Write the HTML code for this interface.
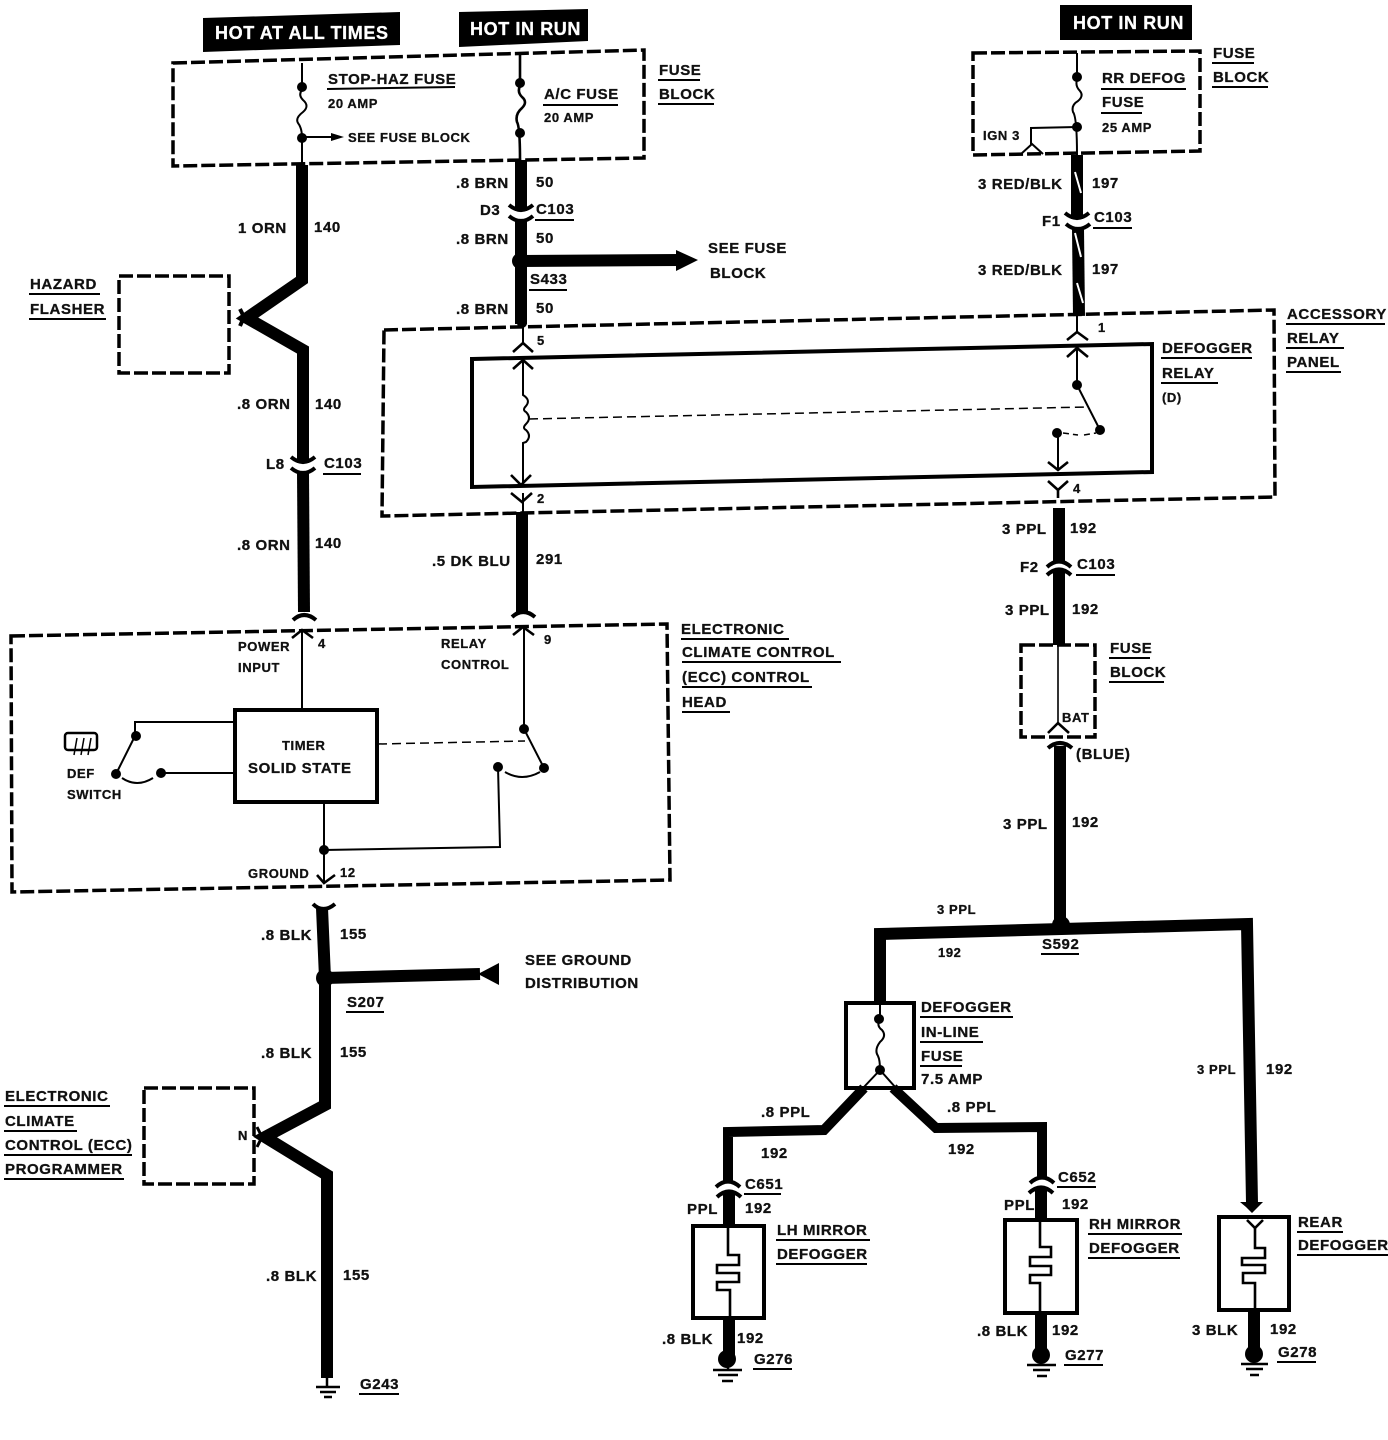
<!DOCTYPE html>
<html><head><meta charset="utf-8"><style>
html,body{margin:0;padding:0;background:#fff}
svg{display:block}
text{font-family:"Liberation Sans",sans-serif;font-weight:bold;font-size:15px;fill:#111;letter-spacing:.6px;stroke:#111;stroke-width:.3px}
.s{font-size:13px}
.w{fill:#fff;stroke:#fff;font-size:18px}
.t{fill:none;stroke:#000;stroke-width:12;stroke-linejoin:miter}
.m{fill:none;stroke:#000;stroke-width:10}
.d{fill:none;stroke:#000;stroke-width:3.5;stroke-dasharray:14 4}
.b{fill:none;stroke:#000;stroke-width:4}
.u{stroke:#000;stroke-width:2;fill:none}
.th{fill:none;stroke:#000;stroke-width:2}
.c{fill:none;stroke:#000;stroke-width:4}
.y{fill:none;stroke:#000;stroke-width:2.6}
</style></head><body>
<svg width="1388" height="1440" viewBox="0 0 1388 1440" xmlns="http://www.w3.org/2000/svg">
<rect width="1388" height="1440" fill="#fff"/>
<!-- black headers -->
<polygon points="203,18 400,12 400,45 203,52" fill="#000"/>
<polygon points="459,12 588,9 588,41 459,47" fill="#000"/>
<rect x="1060" y="5" width="132" height="35" fill="#000"/>
<text class="w" x="215" y="39">HOT AT ALL TIMES</text>
<text class="w" x="470" y="35">HOT IN RUN</text>
<text class="w" x="1073" y="29">HOT IN RUN</text>
<!-- dashed boxes -->
<polygon class="d" points="173,63 644,50 644,158 173,166"/>
<polygon class="d" points="973,53 1200,51 1200,151 973,155"/>
<rect class="d" x="119" y="276" width="110" height="97"/>
<polygon class="d" points="384,330 1274,310 1275,497 382,516"/>
<polygon class="d" points="11,636 667,624 670,880 12,892"/>
<rect class="d" x="1021" y="645" width="74" height="92"/>
<rect class="d" x="144" y="1088" width="110" height="96"/>
<!-- left thick wire -->
<path class="t" d="M302,165V280L247,318L303,350V463"/>
<path class="t" d="M303,473L304,612"/>
<path class="t" d="M322,908L325,978V1105L265,1137L327,1175V1378"/>
<path class="t" d="M325,978L480,974"/><polygon points="478,974 499,963 499,985"/>
<!-- centre -->
<path class="t" d="M521,160V211"/><path class="t" d="M521,221V324"/>
<path class="t" d="M522,512V612"/>
<path d="M520,261L680,260" stroke="#000" stroke-width="12" fill="none"/><polygon points="676,250 698,260 676,271"/>
<circle cx="520" cy="261" r="8"/>
<!-- right -->
<path class="t" d="M1077,155V219"/><path class="t" d="M1078,229L1079,316"/>
<path d="M1075,172L1081,193M1075,233L1081,257M1077,283L1083,303" stroke="#fff" stroke-width="2"/>
<path class="t" d="M1059,508V562"/><path class="t" d="M1059,569V645"/>
<path class="t" d="M1060,746V925"/><circle cx="1061" cy="925" r="9"/>
<path class="t" d="M880,1002V934L1247,924L1252,1203"/>
<polygon points="1240,1202 1263,1202 1258,1207 1252,1213 1246,1207"/>
<path class="m" d="M864,1088L824,1130L728,1132V1183"/>
<path class="m" d="M893,1088L936,1128L1042,1127V1178"/>
<path class="t" d="M729,1192V1226"/><path class="t" d="M1041,1188V1220"/>
<path class="t" d="M729,1318V1355"/><path class="t" d="M1041,1313V1350"/><path class="t" d="M1254,1310V1350"/>
<circle cx="325" cy="978" r="9"/><circle cx="727" cy="1359" r="9"/><circle cx="1041" cy="1355" r="9"/><circle cx="1254" cy="1354" r="9"/>
<!-- connectors -->
<g class="c">
<path d="M291,457Q303,467 315,457M291,468Q303,478 315,468"/>
<path d="M509,205Q521,215 533,205M509,216Q521,226 533,216"/>
<path d="M1065,213Q1077,223 1089,213M1066,224Q1078,234 1090,224"/>
<path d="M1047,567Q1059,556 1071,567M1047,575Q1059,564 1071,575"/>
<path d="M716,1187Q728,1176 740,1187M717,1197Q729,1186 741,1197"/>
<path d="M1030,1183Q1042,1172 1054,1183M1029,1193Q1041,1182 1053,1193"/>
<path d="M293,620Q304,610 316,620"/>
<path d="M512,617Q523,607 535,617"/>
<path d="M1048,748Q1060,738 1072,748"/>
<path d="M313,904Q323,914 335,904"/>
</g>
<!-- fuses, thin lines -->
<g class="th">
<path d="M302,63V90Q298,95 303,100Q310,106 303,112Q295,118 298,123Q302,128 302,138V165"/>
<path d="M302,137H335"/>
<path d="M520,53V86Q517,92 522,97Q528,102 522,108Q515,114 517,122Q520,127 520,160" stroke-width="2.6"/>
<path d="M1077,53V80Q1075,86 1080,91Q1084,96 1078,101Q1071,105 1073,112Q1077,117 1077,155"/>
<path d="M1077,127L1031,128V145M1021,154L1032,144L1043,154"/>
<path d="M1077,316V333M1077,348V385L1100,430"/>
<path d="M1058,433V470"/>
<path d="M1063,433L1078,435M1084,435L1096,433" stroke-dasharray="6 4" stroke-width="1.5"/>
<path d="M523,323V343M523,360V395Q531,400 526,406Q522,410 526,412Q532,418 526,424Q522,428 526,430Q532,436 526,442L523,443V485M523,493V512"/>
<path d="M302,630V708M524,627V729L544,768"/>
<path d="M324,803V883M324,850L500,847L498,767"/>
<path d="M234,722H135V736L116,774M122,778Q137,788 153,778M161,773H234"/>
<path d="M505,772Q522,782 540,772"/>
<path d="M880,1002V1019Q876,1026 882,1030Q887,1036 880,1042Q874,1050 878,1056Q880,1060 880,1070L863,1088M880,1070L896,1088"/>
<path d="M728,1226V1255H739V1265H717V1273H739V1282H717V1290H730V1318" stroke-width="2.6"/>
<path d="M1040,1220V1247H1051V1257H1030V1266H1051V1275H1030V1283H1040V1313" stroke-width="2.6"/>
<path d="M1255,1228V1248H1265V1258H1242V1265H1265V1273H1243V1283H1255V1310" stroke-width="2.6"/>
<path d="M1058,645V723" stroke-width="1.6"/>
</g>
<g fill="none" stroke="#000" stroke-width="1.5" stroke-dasharray="9 5">
<path d="M529,419L1087,407"/><path d="M378,744L525,741"/>
</g>
<polygon points="331,133 344,137 331,141"/>
<!-- dots -->
<g>
<circle cx="302" cy="87" r="5"/><circle cx="302" cy="138" r="5"/><circle cx="520" cy="83" r="5"/><circle cx="520" cy="133" r="5"/>
<circle cx="1077" cy="77" r="5"/><circle cx="1077" cy="127" r="5"/><circle cx="1077" cy="385" r="5"/><circle cx="1100" cy="430" r="5"/><circle cx="1057" cy="433" r="5"/>
<circle cx="522" cy="323" r="5"/>
<circle cx="524" cy="729" r="5"/><circle cx="544" cy="768" r="5"/><circle cx="498" cy="767" r="5"/><circle cx="136" cy="736" r="5"/><circle cx="116" cy="774" r="5"/><circle cx="161" cy="773" r="5"/><circle cx="324" cy="850" r="5"/>
<circle cx="879" cy="1019" r="5"/><circle cx="880" cy="1070" r="5"/>
</g>
<!-- solid boxes -->
<polygon class="b" points="472,359 1152,344 1152,472 472,487"/>
<rect x="235" y="710" width="142" height="92" class="b"/>
<rect x="846" y="1003" width="68" height="85" class="b"/>
<rect x="693" y="1226" width="71" height="92" class="b"/>
<rect x="1005" y="1220" width="72" height="93" class="b"/>
<rect x="1219" y="1217" width="70" height="93" class="b"/>
<!-- chevrons -->
<g class="y">
<path d="M292,638L302,630L313,638"/>
<path d="M513,635L523,627L534,635"/>
<path d="M513,352L523,343L533,352"/>
<path d="M513,369L523,360L533,369"/>
<path d="M511,475L521,485L531,475"/>
<path d="M511,493L522,502L532,493"/>
<path d="M1067,340L1077,332L1088,340"/>
<path d="M1067,357L1077,348L1088,357"/>
<path d="M1048,462L1058,470L1068,462"/>
<path d="M1048,481L1058,490L1068,481M1058,490V498"/>
<path d="M317,875L324,883L335,875"/>
<path d="M1048,733L1058,723L1069,733"/>
<path d="M1247,1220L1255,1228L1263,1220"/>
</g>
<path d="M240,309L244,317L240,326" fill="none" stroke="#000" stroke-width="4"/>
<path d="M257,1127L262,1137L257,1147" fill="none" stroke="#000" stroke-width="3"/>
<!-- grounds -->
<g stroke="#000" stroke-width="2.5"><path d="M316,1387H340M320,1392H336M324,1397H332"/>
<path d="M713,1370H742M718,1375H738M722,1381H733"/><path d="M1027,1365H1056M1033,1370H1050M1037,1376H1047"/><path d="M1241,1364H1268M1246,1369H1263M1250,1375H1259"/><path d="M327,1378V1387M728,1360V1370M1041,1355V1365M1254,1354V1364"/></g>
<!-- labels -->
<text x="328" y="84">STOP-HAZ FUSE</text><path class="u" d="M327,89L455,87"/>
<text class="s" x="328" y="108">20 AMP</text>
<text class="s" x="348" y="142">SEE FUSE BLOCK</text>
<text x="544" y="99">A/C FUSE</text><path class="u" d="M543,105H618"/>
<text class="s" x="544" y="122">20 AMP</text>
<text x="659" y="75">FUSE</text><path class="u" d="M658,80H700"/><text x="659" y="99">BLOCK</text><path class="u" d="M658,104H714"/>
<text x="1102" y="83">RR DEFOG</text><path class="u" d="M1101,89H1186"/><text x="1102" y="107">FUSE</text><path class="u" d="M1101,113H1142"/>
<text class="s" x="1102" y="132">25 AMP</text>
<text class="s" x="983" y="140">IGN 3</text>
<text x="1213" y="58">FUSE</text><path class="u" d="M1212,63H1254"/><text x="1213" y="82">BLOCK</text><path class="u" d="M1212,87H1268"/>
<text x="238" y="233">1 ORN</text><text x="314" y="232">140</text>
<text x="30" y="289">HAZARD</text><path class="u" d="M29,294H100"/><text x="30" y="314">FLASHER</text><path class="u" d="M29,319H106"/>
<text x="237" y="409">.8 ORN</text><text x="315" y="409">140</text>
<text x="266" y="469">L8</text><text x="324" y="468">C103</text><path class="u" d="M323,474H361"/>
<text x="237" y="550">.8 ORN</text><text x="315" y="548">140</text>
<text x="456" y="188">.8 BRN</text><text x="536" y="187">50</text>
<text x="480" y="215">D3</text><text x="536" y="214">C103</text><path class="u" d="M535,220H574"/>
<text x="456" y="244">.8 BRN</text><text x="536" y="243">50</text>
<text x="530" y="284">S433</text><path class="u" d="M529,290H567"/>
<text x="708" y="253">SEE FUSE</text><text x="710" y="278">BLOCK</text>
<text x="456" y="314">.8 BRN</text><text x="536" y="313">50</text>
<text class="s" x="537" y="345">5</text>
<text class="s" x="537" y="503">2</text>
<text x="432" y="566">.5 DK BLU</text><text x="536" y="564">291</text>
<text x="978" y="189">3 RED/BLK</text><text x="1092" y="188">197</text>
<text x="1042" y="226">F1</text><text x="1094" y="222">C103</text><path class="u" d="M1093,228H1132"/>
<text x="978" y="275">3 RED/BLK</text><text x="1092" y="274">197</text>
<text class="s" x="1098" y="332">1</text>
<text x="1287" y="319">ACCESSORY</text><path class="u" d="M1286,324H1385"/><text x="1287" y="343">RELAY</text><path class="u" d="M1286,348H1344"/><text x="1287" y="367">PANEL</text><path class="u" d="M1286,372H1341"/>
<text x="1162" y="353">DEFOGGER</text><path class="u" d="M1161,358H1252"/><text x="1162" y="378">RELAY</text><path class="u" d="M1161,383H1218"/><text class="s" x="1162" y="402">(D)</text>
<text class="s" x="1073" y="493">4</text>
<text x="1002" y="534">3 PPL</text><text x="1070" y="533">192</text>
<text x="1020" y="572">F2</text><text x="1077" y="569">C103</text><path class="u" d="M1076,575H1115"/>
<text x="1005" y="615">3 PPL</text><text x="1072" y="614">192</text>
<text x="1110" y="653">FUSE</text><path class="u" d="M1109,658H1150"/><text x="1110" y="677">BLOCK</text><path class="u" d="M1109,682H1164"/>
<text class="s" x="1062" y="722">BAT</text>
<text x="1076" y="759">(BLUE)</text>
<text x="1003" y="829">3 PPL</text><text x="1072" y="827">192</text>
<text class="s" x="937" y="914">3 PPL</text>
<text class="s" x="938" y="957">192</text>
<text x="1042" y="949">S592</text><path class="u" d="M1041,954H1079"/>
<text x="681" y="634">ELECTRONIC</text><path class="u" d="M681,639H789"/>
<text x="682" y="657">CLIMATE CONTROL</text><path class="u" d="M682,662H841"/>
<text x="682" y="682">(ECC) CONTROL</text><path class="u" d="M682,687H812"/>
<text x="682" y="707">HEAD</text><path class="u" d="M682,712H730"/>
<text class="s" x="238" y="651">POWER</text><text class="s" x="238" y="672">INPUT</text>
<text class="s" x="318" y="648">4</text>
<text class="s" x="441" y="648">RELAY</text><text class="s" x="441" y="669">CONTROL</text>
<text class="s" x="544" y="644">9</text>
<text class="s" x="282" y="750">TIMER</text>
<text x="248" y="773">SOLID STATE</text>
<text class="s" x="67" y="778">DEF</text><text class="s" x="67" y="799">SWITCH</text>
<rect x="65" y="733" width="32" height="17" rx="3" fill="none" stroke="#000" stroke-width="2.5"/>
<path d="M77,738L74,755M84,738L81,755M91,738L88,755" stroke="#000" stroke-width="1.5"/>
<text class="s" x="248" y="878">GROUND</text>
<text class="s" x="340" y="877">12</text>
<text x="261" y="940">.8 BLK</text><text x="340" y="939">155</text>
<text x="525" y="965">SEE GROUND</text><text x="525" y="988">DISTRIBUTION</text>
<text x="347" y="1007">S207</text><path class="u" d="M346,1012H384"/>
<text x="261" y="1058">.8 BLK</text><text x="340" y="1057">155</text>
<text x="5" y="1101">ELECTRONIC</text><path class="u" d="M4,1106H110"/>
<text x="5" y="1126">CLIMATE</text><path class="u" d="M4,1131H77"/>
<text x="5" y="1150">CONTROL (ECC)</text><path class="u" d="M4,1155H132"/>
<text x="5" y="1174">PROGRAMMER</text><path class="u" d="M4,1179H124"/>
<text class="s" x="238" y="1140">N</text>
<text x="266" y="1281">.8 BLK</text><text x="343" y="1280">155</text>
<text x="360" y="1389">G243</text><path class="u" d="M359,1394H399"/>
<text x="921" y="1012">DEFOGGER</text><path class="u" d="M920,1017H1013"/>
<text x="921" y="1037">IN-LINE</text><path class="u" d="M920,1042H983"/>
<text x="921" y="1061">FUSE</text><path class="u" d="M920,1066H962"/>
<text x="921" y="1084">7.5 AMP</text>
<text x="761" y="1117">.8 PPL</text><text x="761" y="1158">192</text>
<text x="947" y="1112">.8 PPL</text><text x="948" y="1154">192</text>
<text x="1197" y="1074" class="s">3 PPL</text><text x="1266" y="1074">192</text>
<text x="745" y="1189">C651</text><path class="u" d="M744,1194H781"/>
<text x="1058" y="1182">C652</text><path class="u" d="M1057,1187H1096"/>
<text x="687" y="1214">PPL</text><text x="745" y="1213">192</text>
<text x="1004" y="1210">PPL</text><text x="1062" y="1209">192</text>
<text x="777" y="1235">LH MIRROR</text><path class="u" d="M776,1240H870"/><text x="777" y="1259">DEFOGGER</text><path class="u" d="M776,1264H867"/>
<text x="1089" y="1229">RH MIRROR</text><path class="u" d="M1088,1234H1182"/><text x="1089" y="1253">DEFOGGER</text><path class="u" d="M1088,1258H1180"/>
<text x="1298" y="1227">REAR</text><path class="u" d="M1297,1232H1343"/><text x="1298" y="1250">DEFOGGER</text><path class="u" d="M1297,1255H1388"/>
<text x="662" y="1344">.8 BLK</text><text x="737" y="1343">192</text>
<text x="977" y="1336">.8 BLK</text><text x="1052" y="1335">192</text>
<text x="1192" y="1335">3 BLK</text><text x="1270" y="1334">192</text>
<text x="754" y="1364">G276</text><path class="u" d="M753,1369H792"/>
<text x="1065" y="1360">G277</text><path class="u" d="M1064,1365H1103"/>
<text x="1278" y="1357">G278</text><path class="u" d="M1277,1362H1316"/>
</svg>
</body></html>
